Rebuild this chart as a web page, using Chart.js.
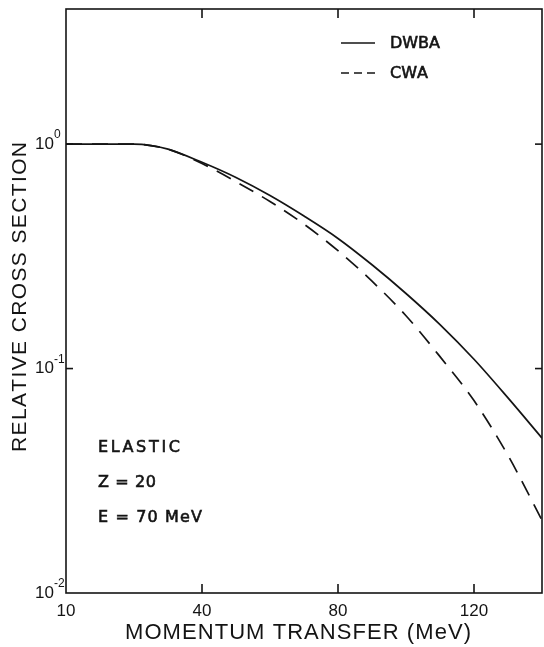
<!DOCTYPE html>
<html><head><meta charset="utf-8">
<script src="https://cdn.jsdelivr.net/npm/chart.js@4.4.0/dist/chart.umd.min.js"></script>
<style>html,body{margin:0;padding:0;background:#fff;}#wrap{width:544px;height:647px;position:relative;}</style>
</head><body><div id="wrap"><canvas id="c" width="544" height="647"></canvas></div>
<script>
// ---- data ----
const momentum = [0, 10, 20, 25, 30, 40, 50, 60, 70, 80, 90, 100, 110, 120, 130, 140];
const dwba     = [1.0, 1.0, 1.0, 0.985, 0.95, 0.83, 0.71, 0.59, 0.478, 0.38, 0.29, 0.216, 0.157, 0.110, 0.074, 0.049];
const cwa      = [1.0, 1.0, 1.0, 0.985, 0.95, 0.82, 0.68, 0.555, 0.44, 0.335, 0.245, 0.172, 0.113, 0.072, 0.041, 0.0211];
const xTickValues = [0, 40, 80, 120];
const xTickLabels = ["10", "40", "80", "120"];
const yTickValues = [1, 0.1, 0.01];
const yTickExponents = ["0", "-1", "-2"];
const seriesNames = ["DWBA", "CWA"];
const notes = ["ELASTIC", "Z = 20", "E = 70 MeV"];
const xTitle = "MOMENTUM TRANSFER (MeV)";
const yTitle = "RELATIVE CROSS SECTION";

const INK = '#141414';
const FONT = '"Liberation Sans", Arial, sans-serif';
const FONT2 = '"DejaVu Sans", sans-serif';

function spacedText(ctx, text, x, y, width, font, align, bolden) {
  ctx.font = font;
  const chars = [...text];
  const ws = chars.map(c => ctx.measureText(c).width);
  const total = ws.reduce((a, b) => a + b, 0);
  const gap = chars.length > 1 ? (width - total) / (chars.length - 1) : 0;
  let cx = x;
  if (align === 'center') cx = x - width / 2;
  ctx.textAlign = 'left';
  chars.forEach((c, i) => {
    ctx.fillText(c, cx, y);
    if (bolden) { ctx.lineWidth = bolden; ctx.strokeText(c, cx, y); }
    cx += ws[i] + gap;
  });
}

const deco = {
  id: 'deco',
  afterDraw(chart) {
    const { ctx, chartArea: a, scales: { x, y } } = chart;
    ctx.save();
    ctx.strokeStyle = INK; ctx.fillStyle = INK; ctx.lineWidth = 1.6;
    const line = (x1, y1, x2, y2) => { ctx.beginPath(); ctx.moveTo(x1, y1); ctx.lineTo(x2, y2); ctx.stroke(); };
    ctx.strokeRect(a.left, a.top, a.right - a.left, a.bottom - a.top);
    // inner ticks
    xTickValues.forEach(v => {
      const px = x.getPixelForValue(v);
      if (px > a.left + 2) { line(px, a.bottom, px, a.bottom - 9); line(px, a.top, px, a.top + 9); }
    });
    yTickValues.forEach(v => {
      const py = y.getPixelForValue(v);
      if (py > a.top + 2 && py < a.bottom - 2) { line(a.left, py, a.left + 7, py); line(a.right, py, a.right - 7, py); }
    });
    // x tick labels
    ctx.textBaseline = 'middle';
    ctx.font = '17px ' + FONT;
    xTickValues.forEach((v, i) => {
      ctx.textAlign = 'center';
      ctx.fillText(xTickLabels[i], x.getPixelForValue(v), a.bottom + 18);
    });
    // y tick labels (10 with superscript exponent)
    yTickValues.forEach((v, i) => {
      const py = y.getPixelForValue(v);
      ctx.font = '17px ' + FONT;
      ctx.textAlign = 'right';
      ctx.fillText('10', a.left - 12, py);
      ctx.font = '12px ' + FONT;
      ctx.textAlign = 'left';
      ctx.fillText(yTickExponents[i], a.left - 12, py - 9);
    });
    // axis titles
    ctx.textBaseline = 'alphabetic';
    spacedText(ctx, xTitle, 298, 639, 346, '22px ' + FONT, 'center', 0);
    ctx.save();
    ctx.translate(26, 297);
    ctx.rotate(-Math.PI / 2);
    spacedText(ctx, yTitle, 0, 0, 310, '21px ' + FONT, 'center', 0);
    ctx.restore();
    // legend
    ctx.lineWidth = 1.6;
    line(341, 43, 375, 43);
    ctx.setLineDash([8, 5]);
    line(341, 73, 375, 73);
    ctx.setLineDash([]);
    ctx.textBaseline = 'middle';
    spacedText(ctx, seriesNames[0], 390, 44, 50, '16px ' + FONT2, 'left', 0.6);
    spacedText(ctx, seriesNames[1], 390, 74, 38, '16px ' + FONT2, 'left', 0.6);
    // notes
    const noteW = [82, 58, 104];
    const noteY = [448, 483, 518];
    notes.forEach((t, i) => spacedText(ctx, t, 98, noteY[i], noteW[i], '16px ' + FONT2, 'left', 0.6));
    ctx.restore();
  }
};

new Chart(document.getElementById('c'), {
  type: 'line',
  data: {
    datasets: [
      { label: seriesNames[0], data: momentum.map((m, i) => ({ x: m, y: dwba[i] })),
        borderColor: INK, borderWidth: 1.7, pointRadius: 0, cubicInterpolationMode: 'monotone', fill: false },
      { label: seriesNames[1], data: momentum.map((m, i) => ({ x: m, y: cwa[i] })),
        borderColor: INK, borderWidth: 1.7, borderDash: [16, 10], pointRadius: 0, cubicInterpolationMode: 'monotone', fill: false }
    ]
  },
  options: {
    responsive: false, animation: false,
    layout: { padding: { left: 66, right: 2, top: 9, bottom: 54 } },
    scales: {
      x: { type: 'linear', min: 0, max: 140, display: false },
      y: { type: 'logarithmic', min: 0.01, max: 4, display: false }
    },
    plugins: { legend: { display: false }, tooltip: { enabled: false } }
  },
  plugins: [deco]
});
</script>
</body></html>
